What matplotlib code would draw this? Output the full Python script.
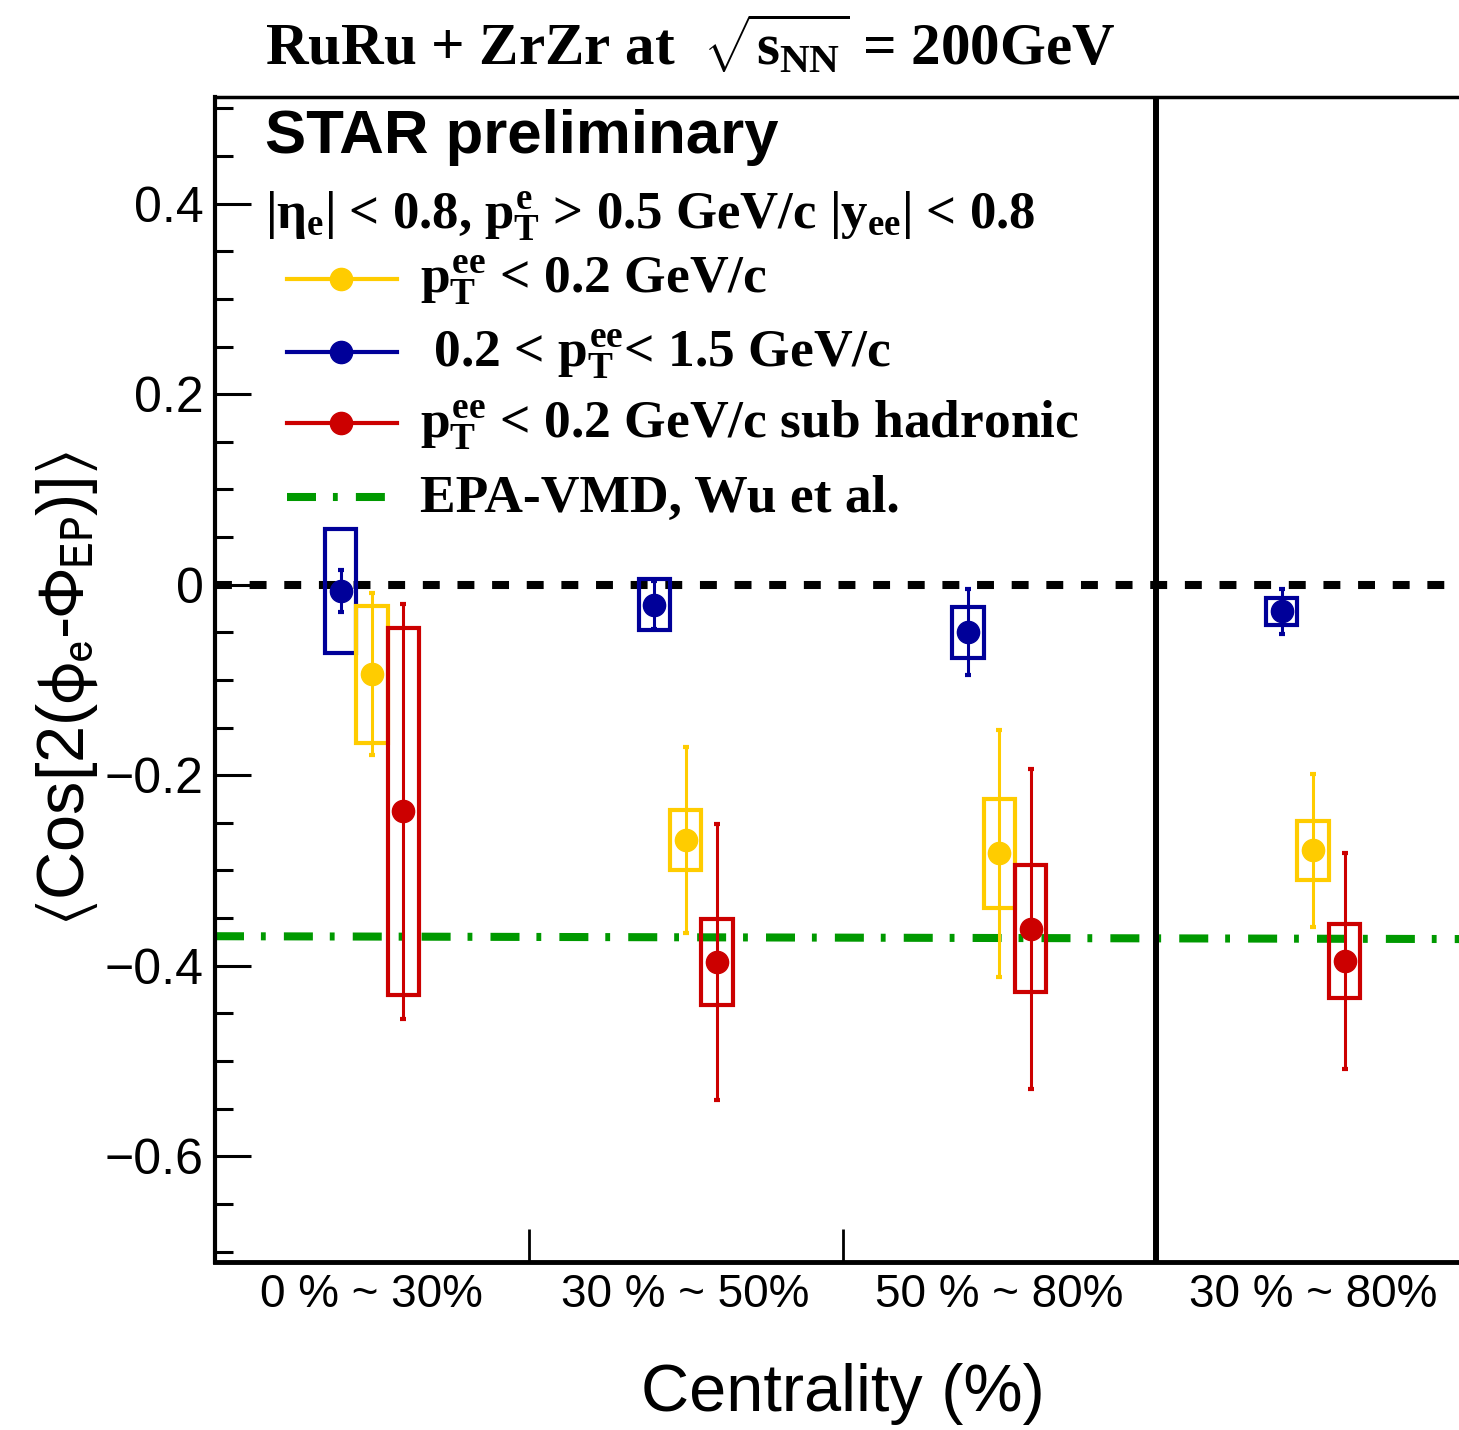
import matplotlib
matplotlib.use("Agg")
import matplotlib.pyplot as plt
from matplotlib.ticker import FixedLocator, MultipleLocator, FuncFormatter, NullFormatter

# serif bold maths (ROOT "Times bold" look) for the annotation texts
plt.rcParams["mathtext.fontset"] = "custom"
plt.rcParams["mathtext.rm"] = "Liberation Serif:bold"
plt.rcParams["mathtext.it"] = "Liberation Serif:bold"
plt.rcParams["mathtext.bf"] = "Liberation Serif:bold"

SANS = ["Liberation Sans", "DejaVu Sans"]
SERIF = ["Liberation Serif", "DejaVu Serif"]

W, H = 1459, 1430

categories = ["0 % ~ 30%", "30 % ~ 50%", "50 % ~ 80%", "30 % ~ 80%"]
bin_centers = [0.5, 1.5, 2.5, 3.5]

# pT^ee < 0.2 GeV/c
low_val = [-0.094, -0.268, -0.282, -0.279]
low_stat = [0.085, 0.098, 0.130, 0.080]
low_sys = [0.072, 0.032, 0.057, 0.031]

# 0.2 < pT^ee < 1.5 GeV/c
mid_val = [-0.007, -0.021, -0.050, -0.028]
mid_stat = [0.022, 0.025, 0.045, 0.024]
mid_sys = [0.065, 0.027, 0.027, 0.014]

# pT^ee < 0.2 GeV/c, hadronic subtracted
sub_val = [-0.238, -0.396, -0.361, -0.395]
sub_stat = [0.218, 0.145, 0.168, 0.113]
sub_sys = [0.193, 0.045, 0.067, 0.039]

# EPA-VMD model (Wu et al.)
model_x = [0.0, 4.0]
model_y = [-0.369, -0.372]

legend_labels = [
    r"$p_{T}^{ee}$ < 0.2 GeV/c",
    r" 0.2 < $p_{T}^{ee}$< 1.5 GeV/c",
    r"$p_{T}^{ee}$ < 0.2 GeV/c sub hadronic",
    "EPA-VMD, Wu et al.",
]

YELLOW = "#ffcc00"
BLUE = "#000099"
RED = "#cc0000"
GREEN = "#009900"


def fx(px):
    return px / W


def fy(py):
    return 1 - py / H


fig = plt.figure(figsize=(W / 100, H / 100), dpi=100)
ax = fig.add_axes([fx(215), fy(1262), 1255 / W, 1165 / H])

ax.set_xlim(0, 4)
ax.set_ylim(-0.711, 0.512)

# reference lines
ax.axhline(0, color="black", lw=5.8, ls=(0, (2.1, 2.2)), zorder=2)
ax.plot(model_x, model_y, color=GREEN, lw=5.8, ls=(0, (3.6, 2.1, 0.6, 2.25)), zorder=2)
ax.axvline(3, color="black", lw=4.3, zorder=5)

series = [
    (mid_val, mid_stat, mid_sys, BLUE, -0.1),
    (low_val, low_stat, low_sys, YELLOW, 0.0),
    (sub_val, sub_stat, sub_sys, RED, 0.1),
]
for vals, stat, sys_, color, off in series:
    xs = [c + off for c in bin_centers]
    ax.bar(xs, [2 * s for s in sys_], bottom=[v - s for v, s in zip(vals, sys_)],
           width=0.1, fill=False, edgecolor=color, lw=3, zorder=3)
    ax.errorbar(xs, vals, yerr=stat, fmt="o", color=color, ms=16,
                elinewidth=2.2, capsize=2.5, capthick=3, zorder=4)

# axes styling (ROOT-like: inward ticks, left/bottom only)
for side, lw in [("left", 3.0), ("bottom", 3.5), ("top", 2.5)]:
    ax.spines[side].set_linewidth(lw)
ax.spines["right"].set_visible(False)

ax.yaxis.set_major_locator(MultipleLocator(0.2))
ax.yaxis.set_minor_locator(MultipleLocator(0.05))
ax.yaxis.set_major_formatter(FuncFormatter(
    lambda v, _: "0" if abs(v) < 1e-9 else f"{v:.1f}".replace("-", "\u2212")))
ax.tick_params(axis="y", which="major", direction="in", length=26, width=2.2,
               labelsize=36, pad=8, right=False)
ax.tick_params(axis="y", which="minor", direction="in", length=13, width=2.2, right=False)
for lab in ax.get_yticklabels():
    lab.set_family(SANS)

ax.xaxis.set_major_locator(FixedLocator([1, 2]))
ax.xaxis.set_major_formatter(NullFormatter())
ax.xaxis.set_minor_locator(FixedLocator(bin_centers))
ax.set_xticklabels(categories, minor=True, family=SANS)
ax.tick_params(axis="x", which="major", direction="in", length=24, width=2.0, top=False)
ax.tick_params(axis="x", which="minor", length=0, labelsize=33, pad=8, top=False)

ax.set_xlabel("Centrality (%)", family=SANS, fontsize=48, va="top")
ax.xaxis.set_label_coords(0.5, -0.087)
ax.set_ylabel(r"$\langle$Cos[2($\mathrm{\phi}_{\mathrm{e}}$-$\Phi_{\mathrm{EP}}$)]$\rangle$",
              family=SANS, fontsize=48, math_fontfamily="stixsans")
ax.yaxis.set_label_coords(-0.0916, 0.4927)

# annotations
fig.text(fx(265), fy(66), r"RuRu + ZrZr at  $\sqrt{s_{NN}}$ = 200GeV", ha="left",
         va="baseline", family=SERIF, weight="bold", fontsize=42.5)
fig.text(fx(265), fy(153), "STAR preliminary", ha="left", va="baseline",
         family=SANS, weight="bold", fontsize=44.5)
fig.text(fx(265), fy(230), r"$|\eta_{e}|$ < 0.8, $p_{T}^{e}$ > 0.5 GeV/c $|y_{ee}|$ < 0.8",
         ha="left", va="baseline", family=SERIF, weight="bold", fontsize=38)

# hand-placed legend
row_y = [279, 352, 423, 497]
for i, (label, color) in enumerate(zip(legend_labels, [YELLOW, BLUE, RED, GREEN])):
    y = fy(row_y[i])
    if i < 3:
        ax.plot([fx(287), fx(397)], [y, y], color=color, lw=3,
                transform=fig.transFigure, clip_on=False)
        ax.plot([fx(341)], [y], color=color, marker="o", ms=16,
                transform=fig.transFigure, clip_on=False)
    else:
        ax.plot([fx(287), fx(390)], [y, y], color=color, lw=5.8,
                ls=(0, (3.6, 2.1, 0.6, 2.25)), transform=fig.transFigure, clip_on=False)
    fig.text(fx(420), fy(row_y[i] + 15), label, ha="left", va="baseline",
             family=SERIF, weight="bold", fontsize=38.5)

fig.savefig("out.png", dpi=100)
